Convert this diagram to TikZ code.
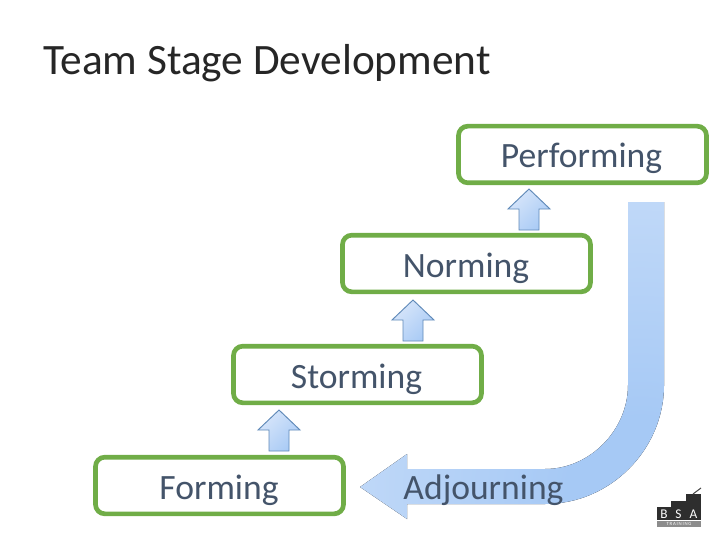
\documentclass[tikz,border=0pt]{standalone}
\usepackage{fontspec}
\setmainfont{Carlito}
\definecolor{boxgreen}{HTML}{70AD47}
\definecolor{labelblue}{HTML}{44546A}
\definecolor{arrowedge}{HTML}{5F89B8}
\definecolor{smalltop}{HTML}{D8E6FA}
\definecolor{smallbot}{HTML}{A8CAF5}
\pgfdeclareradialshading{bigsh}{\pgfpointorigin}{rgb(0bp)=(0.651,0.788,0.961); rgb(6bp)=(0.651,0.788,0.961); rgb(30bp)=(0.784,0.867,0.976); rgb(50bp)=(0.784,0.867,0.976)}
\tikzset{
  stagebox/.style={draw=boxgreen,line width=3.5pt,rounded corners=7pt,fill=white,minimum width=186pt,minimum height=42.5pt,inner sep=0pt},
  stagelabel/.style={anchor=base,text=labelblue,font=\fontsize{26.7}{32}\selectfont,inner sep=0pt},
  uparrow/.style={draw=arrowedge,line width=0.7pt,top color=smalltop,bottom color=smallbot,shading angle=45},
  logotext/.style={text=white,inner sep=0pt,anchor=center}
}
\begin{document}
\begin{tikzpicture}[x=0.75pt,y=-0.75pt]
\useasboundingbox (0,0) rectangle (716,538);
\node[anchor=base west,inner sep=0pt,text=black!85,font=\fontsize{32.5}{40}\selectfont] (title) at (43,75) {Team Stage Development};
% big arrow
\begin{scope}
\clip (628,202) -- (664,202) -- (664,385) .. controls (664,450) and (610,504) .. (545,504) -- (407,504) -- (407,519) -- (360,487) -- (407,454) -- (407,469) -- (545,469) .. controls (590,469) and (628,430) .. (628,385) -- cycle;
\fill[shading=bigsh] (640,490) circle (300);
\end{scope}
% boxes
\node[stagebox] (forming) at (219.5,485.5) {};
\node[stagebox] (storming) at (357.5,374.5) {};
\node[stagebox] (norming) at (466.5,263.5) {};
\node[stagebox] (performing) at (582.5,154.5) {};
\node[stagelabel] (lforming) at (219,499) {Forming};
\node[stagelabel] (lstorming) at (356.5,388) {Storming};
\node[stagelabel] (lnorming) at (466,277) {Norming};
\node[stagelabel] (lperforming) at (581.5,168) {Performing};
\node[stagelabel] (ladjourning) at (483.5,499) {Adjourning};
% small arrows
\foreach \cx/\ty in {279/410,413/300,529/189}{
  \draw[uparrow]
   (\cx,\ty) -- ++(21,20) -- ++(-11,0) -- ++(0,21) -- ++(-20,0) -- ++(0,-21) -- ++(-11,0) -- cycle;
}
% logo
\fill[black!82] (657,507) rectangle (671,520);
\fill[black!82] (671,501) rectangle (686,520);
\fill[black!82] (686,494) rectangle (701,520);
\fill[black!45] (657,521) rectangle (701,527);
\draw[black!70,line width=0.8pt] (693,494) -- (701,488);
\node[logotext,font=\fontsize{10}{10}\selectfont] (lb) at (664,514) {B};
\node[logotext,font=\fontsize{10}{10}\selectfont] (ls) at (678.5,514) {S};
\node[logotext,font=\fontsize{10}{10}\selectfont] (la) at (693.5,514) {A};
\node[logotext,font=\fontsize{3.6}{4}\selectfont] (lt) at (679,524) {T\,R\,A\,I\,N\,I\,N\,G};
\end{tikzpicture}
\end{document}
